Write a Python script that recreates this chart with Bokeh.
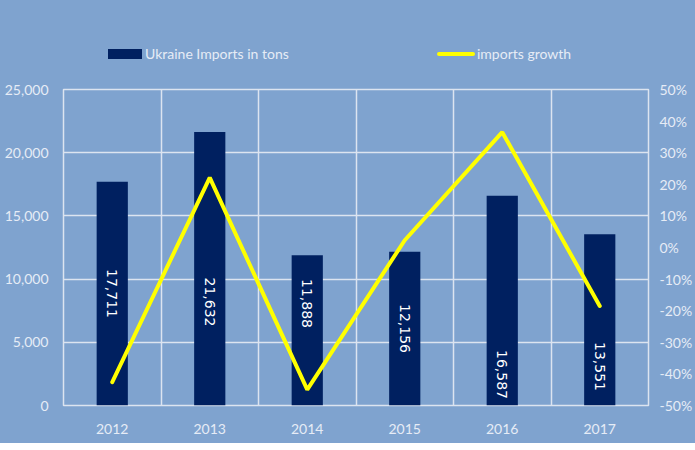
import math
from bokeh.plotting import figure
from bokeh.layouts import column
from bokeh.models import (Range1d, LinearAxis, FixedTicker, NumeralTickFormatter,
                          ColumnDataSource, Grid, Div)
from bokeh.core.properties import value
from bokeh.embed import file_html
from bokeh.resources import INLINE

# ---- data ----
years = ["2012", "2013", "2014", "2015", "2016", "2017"]
imports_tons = [17711, 21632, 11888, 12156, 16587, 13551]
imports_growth = [-0.426, 0.221, -0.450, 0.023, 0.365, -0.185]
label_anchor = [8860, 8190, 8070, 6090, 2450, 3085]
series_names = ["Ukraine Imports in tons", "imports growth"]

BG = "#7fa3cf"
GRID = "#dce4f0"
TXT = "#e6ecf6"
NAVY = "#002060"
YELLOW = "#ffff00"

xs = [i + 0.5 for i in range(len(years))]
src = ColumnDataSource(dict(
    x=xs, tons=imports_tons, growth=imports_growth,
    lab=[f"{v:,}" for v in imports_tons], laby=label_anchor))

# ---------- legend strip (top) ----------
legend_html = f"""
<div style="position:relative;width:695px;height:70px;background:{BG};
            font-family:Lato;font-size:14px;color:{TXT};overflow:hidden;">
  <div style="position:absolute;left:108px;top:49px;width:34px;height:10px;background:{NAVY};"></div>
  <div style="position:absolute;left:145px;top:45px;line-height:18px;white-space:nowrap;">{series_names[0]}</div>
  <div style="position:absolute;left:437px;top:52px;width:38px;height:4px;border-radius:2px;background:{YELLOW};"></div>
  <div style="position:absolute;left:477px;top:45px;line-height:18px;white-space:nowrap;">{series_names[1]}</div>
</div>
"""
top = Div(text=legend_html, width=695, height=70,
          styles={"background-color": BG, "margin": "0", "padding": "0"})

# ---------- main chart ----------
p = figure(width=695, height=373, output_backend="svg", toolbar_location=None,
           x_range=Range1d(0, len(years)), y_range=Range1d(0, 25000),
           min_border_left=63, min_border_right=44, min_border_top=19,
           min_border_bottom=38, y_axis_location=None, x_axis_location=None)
p.background_fill_color = BG
p.border_fill_color = BG
p.outline_line_color = GRID
p.outline_line_width = 1.5

p.extra_y_ranges = {"pct": Range1d(-0.5, 0.5)}

p.xgrid.visible = False
p.ygrid.visible = False
vgrid = Grid(dimension=0, ticker=FixedTicker(ticks=list(range(len(years) + 1))),
             grid_line_color=GRID, grid_line_width=1.5)
hgrid = Grid(dimension=1, ticker=FixedTicker(ticks=list(range(0, 25001, 5000))),
             grid_line_color=GRID, grid_line_width=1.5)
p.add_layout(vgrid)
p.add_layout(hgrid)

def style_axis(ax):
    ax.axis_line_color = None
    ax.major_tick_line_color = None
    ax.minor_tick_line_color = None
    ax.major_tick_out = 0
    ax.major_tick_in = 0
    ax.minor_tick_out = 0
    ax.minor_tick_in = 0
    ax.major_label_text_color = TXT
    ax.major_label_text_font = "Lato"
    ax.major_label_text_font_size = "14px"

left = LinearAxis(ticker=FixedTicker(ticks=list(range(0, 25001, 5000))),
                  formatter=NumeralTickFormatter(format="0,0"))
style_axis(left)
left.major_label_standoff = 15
p.add_layout(left, "left")

right = LinearAxis(y_range_name="pct",
                   ticker=FixedTicker(ticks=[round(-0.5 + 0.1 * i, 1) for i in range(11)]),
                   formatter=NumeralTickFormatter(format="0%"))
style_axis(right)
right.major_label_standoff = 11
p.add_layout(right, "right")

bottom = LinearAxis(ticker=FixedTicker(ticks=xs),
                    major_label_overrides={x: y for x, y in zip(xs, years)})
style_axis(bottom)
bottom.major_label_standoff = 18
p.add_layout(bottom, "below")

p.vbar(x="x", top="tons", width=0.32, source=src, fill_color=NAVY, line_color=None)
p.line(x="x", y="growth", source=src, y_range_name="pct",
       line_color=YELLOW, line_width=4, line_cap="round")

p.text(x="x", y="laby", text="lab", source=src, angle=-math.pi / 2,
       text_align="center", text_baseline="middle", text_color="white",
       text_font=value("DejaVu Sans"), text_font_size="14px")

layout = column(top, p, spacing=0, styles={"background-color": BG})
open("out.html", "w").write(file_html(layout, INLINE))
